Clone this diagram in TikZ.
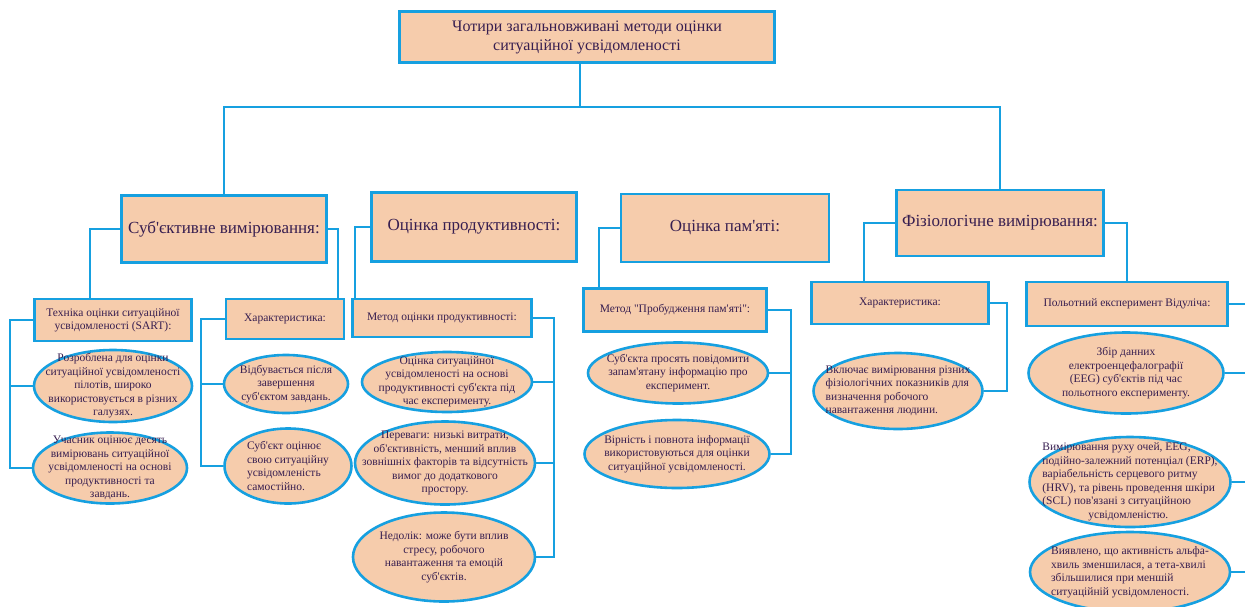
\documentclass[tikz,border=0pt]{standalone}
\usepackage{fontspec}
\setmainfont{Liberation Serif}[Ligatures=TeXOff]
\usepackage{tikz}
\usetikzlibrary{shapes.geometric, positioning}

\definecolor{rahmen}{RGB}{22,160,224}
\definecolor{pfirsich}{RGB}{246,204,172}
\definecolor{schrift}{RGB}{55,30,80}

\tikzset{
	box/.style={draw=rahmen, fill=pfirsich, line width=2.6pt, text=schrift, align=center, inner sep=2pt},
	mainbox/.style={box, font=\fontsize{16}{19}\selectfont},
	catbox/.style={box, font=\fontsize{17}{20}\selectfont},
	subbox/.style={box, font=\fontsize{11.5}{13}\selectfont},
	oval/.style={ellipse, draw=rahmen, fill=pfirsich, line width=2.6pt, inner sep=0pt},
	ovaltxt/.style={text=schrift, align=center, inner sep=0pt, font=\fontsize{11.5}{13.5}\selectfont},
	conn/.style={draw=rahmen, line width=2.4pt}
}

\begin{document}
\begin{tikzpicture}[x=1pt, y=-1pt]
	\useasboundingbox (0,0) rectangle (1245,606);
	\clip (0,0) rectangle (1245,606);
	
	% Kopf
	\node[mainbox, minimum width=375pt, minimum height=51pt] (top) at (587,37) {Чотири загальновживані методи оцінки\\ситуаційної усвідомленості};
	
	% Methoden
	\node[catbox, minimum width=205pt, minimum height=67pt] (subj) at (224,229) {Суб'єктивне вимірювання:};
	\node[catbox, minimum width=205pt, minimum height=69pt] (prod) at (474,227) {Оцінка продуктивності:};
	\node[catbox, minimum width=208pt, minimum height=68pt] (mem) at (725,228) {Оцінка пам'яті:};
	\node[catbox, minimum width=207pt, minimum height=66pt] (phys) at (1000,223) {Фізіологічне вимірювання:};
	
	% Unterpunkte
	\node[subbox, minimum width=157pt, minimum height=42pt] (sart) at (113,320) {Техніка оцінки ситуаційної\\усвідомленості (SART):};
	\node[subbox, minimum width=118pt, minimum height=40pt] (char1) at (285,319) {Характеристика:};
	\node[subbox, minimum width=179pt, minimum height=38pt] (perf) at (442,318) {Метод оцінки продуктивності:};
	\node[subbox, minimum width=183pt, minimum height=43pt] (wake) at (675,310) {Метод "Пробудження пам'яті":};
	\node[subbox, minimum width=177pt, minimum height=42pt] (char2) at (900,303) {Характеристика:};
	\node[subbox, minimum width=201pt, minimum height=44pt] (flight) at (1127,304) {Польотний експеримент Відуліча:};
	
	% Ellipsen links
	\node[oval, minimum width=158pt, minimum height=72pt] (sart1) at (113,386) {};
	\node[ovaltxt] (sart1t) at (sart1) {Розроблена для оцінки\\ситуаційної усвідомленості\\пілотів, широко\\використовується в різних\\галузях.};
	\node[oval, minimum width=154pt, minimum height=71pt] (sart2) at (110,468) {};
	\node[ovaltxt] (sart2t) at (sart2) {Учасник оцінює десять\\вимірювань ситуаційної\\усвідомленості на основі\\продуктивності та\\завдань.};
	\node[oval, minimum width=124pt, minimum height=58pt] (char1a) at (286,384) {};
	\node[ovaltxt] (char1at) at (char1a) {Відбувається після\\завершення\\суб'єктом завдань.};
	\node[oval, minimum width=127pt, minimum height=75pt] (char1b) at (288,466) {};
	\node[ovaltxt, align=left] (char1bt) at (char1b) {Суб'єкт оцінює\\свою ситуаційну\\усвідомленість\\самостійно.};
	
	% Ellipsen Mitte
	\node[oval, minimum width=170pt, minimum height=60pt] (perf1) at (447,382) {};
	\node[ovaltxt] (perf1t) at (perf1) {Оцінка ситуаційної\\усвідомленості на основі\\продуктивності суб'єкта під\\час експерименту.};
	\node[oval, minimum width=180pt, minimum height=83pt] (perf2) at (445,463) {};
	\node[ovaltxt] (perf2t) at (perf2) {Переваги: низькі витрати,\\об'єктивність, менший вплив\\зовнішніх факторів та відсутність\\вимог до додаткового\\простору.};
	\node[oval, minimum width=182pt, minimum height=89pt] (perf3) at (444,557) {};
	\node[ovaltxt] (perf3t) at (perf3) {Недолік: може бути вплив\\стресу, робочого\\навантаження та емоцій\\суб'єктів.};
	\node[oval, minimum width=180pt, minimum height=61pt] (wake1) at (678,373) {};
	\node[ovaltxt] (wake1t) at (wake1) {Суб'єкта просять повідомити\\запам'ятану інформацію про\\експеримент.};
	\node[oval, minimum width=185pt, minimum height=68pt] (wake2) at (677,454) {};
	\node[ovaltxt] (wake2t) at (wake2) {Вірність і повнота інформації\\використовуються для оцінки\\ситуаційної усвідомленості.};
	
	% Ellipsen rechts
	\node[oval, minimum width=169pt, minimum height=76pt] (char2a) at (898,391) {};
	\node[ovaltxt, align=left] (char2at) at (char2a) {Включає вимірювання різних\\фізіологічних показників для\\визначення робочого\\навантаження людини.};
	\node[oval, minimum width=195pt, minimum height=81pt] (fl1) at (1126,373) {};
	\node[ovaltxt] (fl1t) at (fl1) {Збір данних\\електроенцефалографії\\(EEG) суб'єктів під час\\польотного експерименту.};
	\node[oval, minimum width=201pt, minimum height=90pt] (fl2) at (1130,482) {};
	\node[ovaltxt, align=left] (fl2t) at (fl2) {Вимірювання руху очей, EEG,\\подійно-залежний потенціал (ERP),\\варіабельність серцевого ритму\\(HRV), та рівень проведення шкіри\\(SCL) пов'язані з ситуаційною\\\hspace*{4em}усвідомленістю.};
	\node[oval, minimum width=200pt, minimum height=80pt] (fl3) at (1130,572) {};
	\node[ovaltxt, align=left] (fl3t) at (fl3) {Виявлено, що активність альфа-\\хвиль зменшилася, а тета-хвилі\\збільшилися при меншій\\ситуаційній усвідомленості.};
	
	% Verbindungen oben
	\coordinate (bus) at (580,107);
	\draw[conn] (top.south -| bus) -- (bus);
	\draw[conn] (subj.north) |- (bus) -| (phys.north);
	
	% Verbindungen Ebene 2
	\draw[conn] (subj.west) -| ([xshift=-23pt]sart.north);
	\draw[conn] (subj.east) -| ([xshift=53pt]char1.north);
	\draw[conn] (prod.west) -| ([xshift=4pt]perf.north west);
	\draw[conn] (mem.west) -| ([xshift=17pt]wake.north west);
	\draw[conn] (phys.west) -| ([xshift=54pt]char2.north west);
	\draw[conn] (phys.east) -| (flight.north);
	
	% Verbindungen Ebene 3
	\coordinate (sartbus) at ([xshift=-23pt]sart.west);
	\draw[conn] (sart.west) -- (sartbus) |- (sart2.west);
	\draw[conn] (sart1.west) -- (sart1.west -| sartbus);
	
	\coordinate (char1bus) at ([xshift=-24pt]char1.west);
	\draw[conn] (char1.west) -- (char1bus) |- (char1b.west);
	\draw[conn] (char1a.west) -- (char1a.west -| char1bus);
	
	\coordinate (perfbus) at ([xshift=21pt]perf.east);
	\draw[conn] (perf.east) -- (perfbus) |- (perf3.east);
	\foreach \e in {perf1, perf2}
		\draw[conn] (\e.east) -- (\e.east -| perfbus);
	
	\coordinate (wakebus) at ([xshift=23pt]wake.east);
	\draw[conn] (wake.east) -- (wakebus) |- (wake2.east);
	\draw[conn] (wake1.east) -- (wake1.east -| wakebus);
	
	\draw[conn] (char2.east) -- ++(17,0) |- (char2a.east);
	
	\coordinate (flbus) at ([xshift=26pt]flight.east);
	\draw[conn] (flight.east) -- (flbus) |- (fl3.east);
	\foreach \e in {fl1, fl2}
		\draw[conn] (\e.east) -- (\e.east -| flbus);
\end{tikzpicture}
\end{document}
